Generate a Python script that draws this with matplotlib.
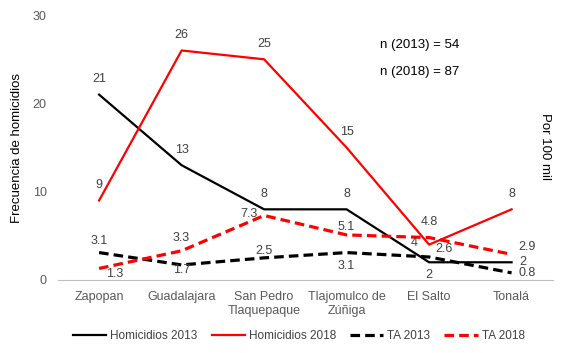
import matplotlib.pyplot as plt

plt.rcParams['font.family'] = ['Liberation Sans', 'DejaVu Sans']

municipios = ['Zapopan', 'Guadalajara', 'San Pedro\nTlaquepaque',
              'Tlajomulco de\nZúñiga', 'El Salto', 'Tonalá']
hom_2013 = [21, 13, 8, 8, 2, 2]
hom_2018 = [9, 26, 25, 15, 4, 8]
ta_2013 = [3.1, 1.7, 2.5, 3.1, 2.6, 0.8]
ta_2018 = [1.3, 3.3, 7.3, 5.1, 4.8, 2.9]

# label offsets (points) for each value label, relative to its point
off_h13 = [(0, 11), (0, 11), (0, 11), (0, 11), (0, -9), (8, 0)]
off_h18 = [(0, 11), (0, 11), (0, 11), (0, 11), (-11, 1), (0, 11)]
off_t13 = [(0, 8), (0, -4), (0, 5), (0, -10), (11, 6), (11, 0)]
off_t18 = [(11, -4), (0, 9), (-11, 1), (0, 6), (0, 11), (11, 5)]

txt = '#404040'
x = list(range(len(municipios)))

fig = plt.figure(figsize=(5.67, 3.53), dpi=100)
ax = fig.add_axes([0.102, 0.207, 0.873, 0.75])

ax.plot(x, hom_2013, color='black', lw=1.6, label='Homicidios 2013')
ax.plot(x, hom_2018, color='#ff0000', lw=1.6, label='Homicidios 2018')
ax.plot(x, ta_2013, color='black', lw=2.3, ls=(0, (3, 1.6)), label='TA 2013')
ax.plot(x, ta_2018, color='#ff0000', lw=2.3, ls=(0, (3, 1.6)), label='TA 2018')

for vals, offs in [(hom_2013, off_h13), (hom_2018, off_h18),
                   (ta_2013, off_t13), (ta_2018, off_t18)]:
    for xi, v, o in zip(x, vals, offs):
        ax.annotate(f'{v:g}', (xi, v), xytext=o, textcoords='offset points',
                    ha='center', va='center', fontsize=9, color=txt)

ax.set_xlim(-0.5, 5.5)
ax.set_ylim(0, 30)
ax.set_yticks([0, 10, 20, 30])
ax.set_xticks(x)
ax.set_xticklabels(municipios)
ax.tick_params(axis='both', length=0, labelsize=9, labelcolor='#595959', pad=8)
for s in ['top', 'right', 'left']:
    ax.spines[s].set_visible(False)
ax.spines['bottom'].set_color('#bfbfbf')

ax.set_ylabel('Frecuencia de homicidios', fontsize=9.5, color='black', labelpad=7)
fig.text(0.962, 0.585, 'Por 100 mil', rotation=-90, fontsize=9.5, ha='center', va='center')
fig.text(0.67, 0.872, 'n (2013) = 54', fontsize=9.5, ha='left', va='center')
fig.text(0.67, 0.795, 'n (2018) = 87', fontsize=9.5, ha='left', va='center')

fig.legend(loc='lower center', bbox_to_anchor=(0.527, 0.0), ncol=4, frameon=False,
           fontsize=8.5, labelcolor=txt, handlelength=2.8, columnspacing=1.2,
           handletextpad=0.35)

fig.savefig('out.png', dpi=100)
